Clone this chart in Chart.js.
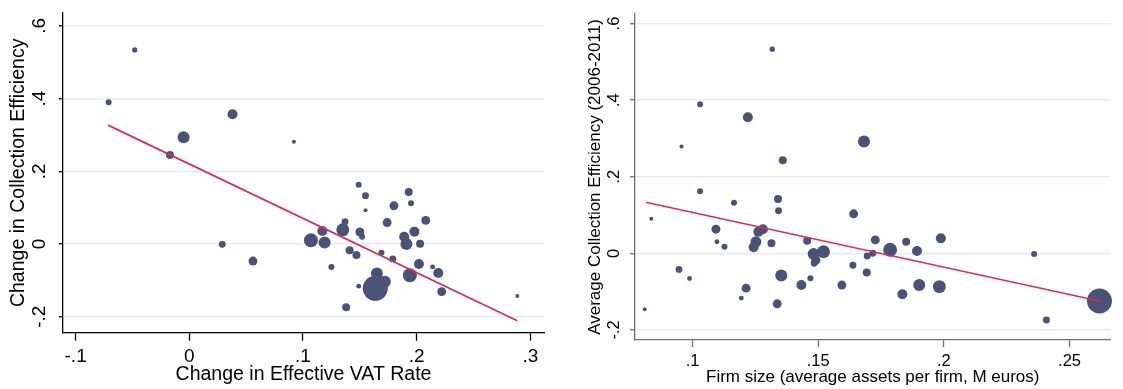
<!DOCTYPE html>
<html>
<head>
<meta charset="utf-8">
<script src="https://cdn.jsdelivr.net/npm/chart.js@4/dist/chart.umd.min.js"></script>
<style>
  html, body { margin: 0; padding: 0; background: #fff; }
  #wrap { position: relative; width: 1123px; height: 389px; overflow: hidden; }
  .panel { position: absolute; top: 0; height: 389px; }
  #p1 { left: 0; width: 560px; }
  #p2 { left: 565px; width: 558px; }
</style>
</head>
<body>
<div id="wrap">
  <div class="panel" id="p1"><canvas id="c1"></canvas></div>
  <div class="panel" id="p2"><canvas id="c2"></canvas></div>
</div>
<script>
// ---- Left panel: change in effective VAT rate vs change in collection efficiency ----
const vatChange = [-0.048, -0.071, 0.038, -0.005, -0.017, 0.092, 0.149, 0.155, 0.193, 0.029,
  0.056, 0.2885, 0.1636, 0.165, 0.172, 0.138, 0.149, 0.125, 0.107, 0.119,
  0.117, 0.135, 0.137, 0.150, 0.152, 0.141, 0.147, 0.169, 0.179, 0.174,
  0.180, 0.195, 0.155, 0.198, 0.189, 0.191, 0.203, 0.208, 0.202, 0.194,
  0.214, 0.219, 0.222];
const effChange = [0.534, 0.390, 0.357, 0.294, 0.245, 0.281, 0.163, 0.133, 0.143, -0.001,
  -0.047, -0.143, -0.122, -0.081, -0.104, -0.174, -0.116, -0.063, 0.010, 0.004,
  0.036, 0.039, 0.061, 0.033, 0.020, -0.017, -0.030, -0.024, -0.041, 0.059,
  0.105, 0.112, 0.093, 0.034, 0.020, 0.000, 0.001, 0.065, -0.055, -0.086,
  -0.063, -0.080, -0.131];
const weightVat = [7, 9, 25, 36, 16, 4, 9, 12, 16, 12,
  20, 4, 156, 36, 36, 16, 6, 9, 49, 36,
  25, 42, 12, 20, 9, 16, 16, 9, 12, 20,
  20, 9, 4, 25, 25, 36, 16, 20, 25, 49,
  6, 25, 20];
const fitVatX = [-0.0715, 0.2885];
const fitVatY = [0.327, -0.211];

// ---- Right panel: firm size vs average collection efficiency (2006-2011) ----
const firmSize = [0.1317, 0.103, 0.122, 0.0956, 0.1359, 0.103, 0.1682, 0.1165, 0.134, 0.1342,
  0.0836, 0.1093, 0.1262, 0.128, 0.1456, 0.1097, 0.1127, 0.1252, 0.1243, 0.1314,
  0.1482, 0.1521, 0.1491, 0.1484, 0.0946, 0.0988, 0.1353, 0.1469, 0.1433, 0.1213,
  0.1194, 0.1337, 0.081, 0.1641, 0.1727, 0.185, 0.1988, 0.1786, 0.1893, 0.1717,
  0.1695, 0.1638, 0.1693, 0.1594, 0.1902, 0.1982, 0.1835, 0.2359, 0.2408, 0.2619];
const effAverage = [0.533, 0.389, 0.355, 0.279, 0.243, 0.162, 0.292, 0.132, 0.142, 0.111,
  0.090, 0.063, 0.056, 0.063, 0.033, 0.030, 0.017, 0.030, 0.016, 0.026,
  -0.002, 0.004, -0.018, -0.026, -0.042, -0.066, -0.058, -0.065, -0.083, -0.091,
  -0.117, -0.132, -0.146, 0.103, 0.035, 0.030, 0.039, 0.009, 0.006, 0.000,
  -0.007, -0.031, -0.050, -0.083, -0.083, -0.087, -0.107, -0.002, -0.174, -0.1245];
const weightFirm = [7, 9, 25, 4, 16, 9, 36, 9, 16, 12,
  4, 20, 25, 25, 16, 6, 9, 30, 25, 16,
  36, 42, 20, 12, 12, 6, 36, 9, 25, 20,
  6, 20, 4, 20, 20, 16, 25, 49, 25, 12,
  12, 12, 16, 20, 36, 42, 25, 9, 12, 156];
const fitFirmX = [0.0814, 0.2619];
const fitFirmY = [0.133, -0.1245];

// ---- Axis ticks ----
const effTicks = [-0.2, 0, 0.2, 0.4, 0.6];
const vatTicks = [-0.1, 0, 0.1, 0.2, 0.3];
const firmTicks = [0.1, 0.15, 0.2, 0.25];

const FONT = '"Liberation Sans", Arial, Helvetica, sans-serif';
const DOT = '#4a5377';
const FIT = '#d4305a';
const GRID = '#e4ecee';

Chart.defaults.font.family = FONT;

// Stata-style number labels: ".2", "-.1", "0"
function fmt(v) {
  if (Math.abs(v) < 1e-9) return '0';
  return String(+v.toFixed(3)).replace(/^(-?)0\./, '$1.');
}

function bubbles(xs, ys, ws) {
  return xs.map((x, i) => ({ x: x, y: ys[i], r: Math.sqrt(ws[i]) }));
}
function segment(xs, ys) {
  return xs.map((x, i) => ({ x: x, y: ys[i] }));
}

// Vertical (rotated) tick labels on the y axis
const rotatedYTicks = {
  id: 'rotatedYTicks',
  afterDraw(chart, args, opts) {
    const s = chart.scales.y;
    const ctx = chart.ctx;
    ctx.save();
    ctx.fillStyle = opts.color;
    ctx.font = opts.size + 'px ' + FONT;
    ctx.textAlign = 'center';
    ctx.textBaseline = 'middle';
    s.ticks.forEach(t => {
      const py = s.getPixelForValue(t.value);
      ctx.save();
      ctx.translate(opts.x, py);
      ctx.rotate(-Math.PI / 2);
      ctx.fillText(fmt(t.value), 0, 0);
      ctx.restore();
    });
    ctx.restore();
  }
};

function makeChart(id, cfg) {
  return new Chart(document.getElementById(id), {
    type: 'bubble',
    data: {
      datasets: [
        {
          type: 'line',
          data: segment(cfg.fitX, cfg.fitY),
          borderColor: FIT,
          borderWidth: cfg.fitWidth,
          pointRadius: 0,
          fill: false,
          order: 0
        },
        {
          data: bubbles(cfg.xs, cfg.ys, cfg.ws),
          backgroundColor: DOT,
          borderColor: DOT,
          borderWidth: 0,
          clip: false,
          order: 1
        }
      ]
    },
    options: {
      animation: false,
      responsive: true,
      maintainAspectRatio: false,
      devicePixelRatio: 1,
      layout: { padding: cfg.padding },
      plugins: {
        legend: { display: false },
        tooltip: { enabled: false },
        rotatedYTicks: cfg.yLabels
      },
      scales: {
        x: {
          type: 'linear',
          min: cfg.xMin,
          max: cfg.xMax,
          afterBuildTicks: s => { s.ticks = cfg.xTicks.map(v => ({ value: v })); },
          afterFit: s => { s.height = cfg.xAxisHeight; },
          ticks: {
            autoSkip: false, maxRotation: 0, minRotation: 0,
            padding: cfg.xTickPad,
            color: '#000',
            font: { size: cfg.tickSize },
            callback: v => fmt(v)
          },
          grid: { drawOnChartArea: false, drawTicks: true, tickLength: cfg.xTickLen, tickColor: cfg.axisColor, tickWidth: 1.3 },
          border: { display: true, color: cfg.axisColor, width: 1.3 },
          title: {
            display: true, text: cfg.xTitle, color: '#000',
            font: { size: cfg.xTitleSize },
            padding: { top: 0, bottom: cfg.xTitlePad }
          }
        },
        y: {
          type: 'linear',
          min: cfg.yMin,
          max: cfg.yMax,
          afterBuildTicks: s => { s.ticks = effTicks.map(v => ({ value: v })); },
          afterFit: s => { s.width = cfg.yAxisWidth; },
          ticks: { display: false },
          grid: { color: GRID, lineWidth: 1.5, drawTicks: true, tickLength: cfg.yTickLen, tickColor: cfg.axisColor, tickWidth: 1.3 },
          border: { display: true, color: cfg.axisColor, width: 1.3 },
          title: {
            display: true, text: cfg.yTitle, color: '#000',
            font: { size: cfg.yTitleSize },
            padding: { top: cfg.yTitlePad, bottom: 0 }
          }
        }
      }
    },
    plugins: [rotatedYTicks]
  });
}

makeChart('c1', {
  xs: vatChange, ys: effChange, ws: weightVat,
  fitX: fitVatX, fitY: fitVatY, fitWidth: 1.8,
  xMin: -0.1111, xMax: 0.312, yMin: -0.244, yMax: 0.6355,
  xTicks: vatTicks,
  padding: { left: 0, right: 16, top: 13, bottom: 0 },
  xAxisHeight: 56.3, yAxisWidth: 63,
  axisColor: '#000', xTickLen: 8, yTickLen: 4, xTickPad: 5,
  tickSize: 19,
  xTitle: 'Change in Effective VAT Rate', xTitleSize: 19.5, xTitlePad: 2.4,
  yTitle: 'Change in Collection Efficiency', yTitleSize: 19.5, yTitlePad: 6.6,
  yLabels: { x: 40, size: 19, color: '#000' }
});

makeChart('c2', {
  xs: firmSize, ys: effAverage, ws: weightFirm,
  fitX: fitFirmX, fitY: fitFirmY, fitWidth: 1.5,
  xMin: 0.0771, xMax: 0.2663, yMin: -0.2264, yMax: 0.6248,
  xTicks: firmTicks,
  padding: { left: 0, right: 0, top: 14, bottom: 0 },
  xAxisHeight: 49, yAxisWidth: 70,
  axisColor: '#707070', xTickLen: 7, yTickLen: 5, xTickPad: 5,
  tickSize: 16.5,
  xTitle: 'Firm size (average assets per firm, M euros)', xTitleSize: 17, xTitlePad: 1.8,
  yTitle: 'Average Collection Efficiency (2006-2011)', yTitleSize: 17, yTitlePad: 19.8,
  yLabels: { x: 49.7, size: 16.5, color: '#000' }
});
</script>
</body>
</html>
